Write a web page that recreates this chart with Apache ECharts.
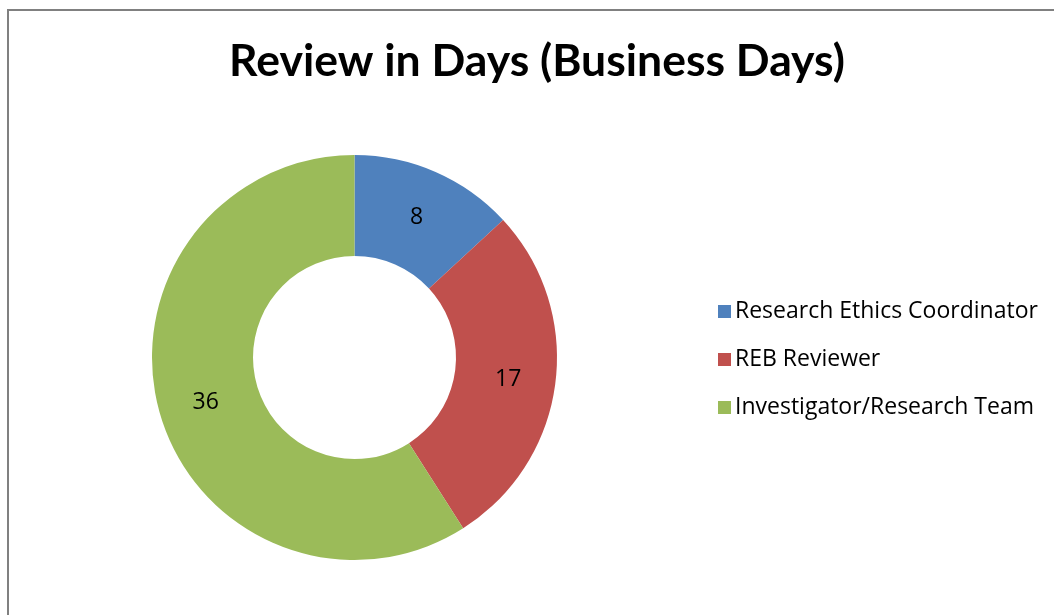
<!DOCTYPE html>
<html>
<head>
<meta charset="utf-8">
<script src="https://cdn.jsdelivr.net/npm/echarts@6/dist/echarts.min.js"></script>
<style>
  html, body { margin: 0; padding: 0; background: #fff; overflow: hidden; }
  #frame { position: absolute; left: 7px; top: 9px; width: 1100px; height: 700px; border: 2px solid #808080; }
  #chart { position: absolute; left: 0; top: 0; width: 1074px; height: 615px; }
</style>
</head>
<body>
<div id="frame"></div>
<div id="chart"></div>
<script>
const categories = ['Research Ethics Coordinator', 'REB Reviewer', 'Investigator/Research Team']
const values = [8, 17, 36]
const colors = ['#4F81BD', '#C0504D', '#9BBB59']

const chart = echarts.init(document.getElementById('chart'))
chart.setOption({
  animation: false,
  title: {
    text: 'Review in Days (Business Days)',
    left: 'center',
    top: 34,
    textStyle: { fontFamily: 'Lato', fontWeight: 'bold', fontSize: 44.5, color: '#000' },
  },
  legend: {
    orient: 'vertical',
    left: 713,
    top: 295,
    itemWidth: 13,
    itemHeight: 13,
    itemGap: 25,
    icon: 'rect',
    textStyle: { fontFamily: 'Open Sans', fontSize: 23, color: '#000', padding: [0, 0, 0, -1] },
    data: categories,
  },
  series: [{
    type: 'pie',
    center: [354.5, 357.5],
    radius: [101.5, 202.5],
    startAngle: 90,
    clockwise: true,
    silent: true,
    label: {
      position: 'inside',
      formatter: '{c}',
      fontFamily: 'Open Sans',
      fontSize: 23,
      color: '#000',
      offset: [0, 2],
    },
    labelLine: { show: false },
    data: categories.map((name, i) => ({ name, value: values[i], itemStyle: { color: colors[i] } })),
  }],
})
</script>
</body>
</html>
